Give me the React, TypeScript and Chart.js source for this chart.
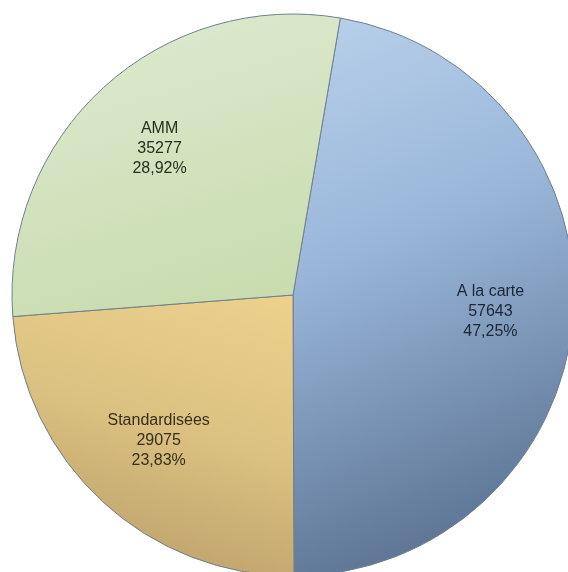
import React, { useEffect, useRef } from "react";
import { Chart, registerables } from "chart.js";

Chart.register(...registerables);

const categories = ["A la carte", "Standardisées", "AMM"];
const values = [57643, 29075, 35277];

const W = 568;
const H = 572;
const RADIUS = 281;
const ROTATION = 9.7;

const labelColors = ["#1c2636", "#36301a", "#25301f"];
const borderColor = "#6f7f8f";

function makeFill(chart: any, index: number) {
  const area = chart.chartArea;
  const c = chart.ctx as CanvasRenderingContext2D;
  if (!area) return ["#9dbadd", "#dcc383", "#d0e2bc"][index];
  const cx = (area.left + area.right) / 2;
  const cy = (area.top + area.bottom) / 2;
  const r = RADIUS;
  if (index === 0) {
    const g = c.createLinearGradient(cx - 0.2 * r, cy - r, cx + 0.6 * r, cy + 0.9 * r);
    g.addColorStop(0, "#bcd3ec");
    g.addColorStop(0.45, "#9ab7da");
    g.addColorStop(1, "#5c7392");
    return g;
  }
  if (index === 1) {
    const g = c.createLinearGradient(cx - 0.1 * r, cy, cx - 0.4 * r, cy + r);
    g.addColorStop(0, "#ecd08c");
    g.addColorStop(0.5, "#dcc282");
    g.addColorStop(1, "#bfa36d");
    return g;
  }
  const g = c.createLinearGradient(cx - 0.3 * r, cy - r, cx, cy);
  g.addColorStop(0, "#dbe8cc");
  g.addColorStop(1, "#c8dcae");
  return g;
}

const sliceLabels = {
  id: "sliceLabels",
  afterDatasetsDraw(chart: any) {
    const ctx = chart.ctx as CanvasRenderingContext2D;
    const meta = chart.getDatasetMeta(0);
    const data = chart.data.datasets[0].data as number[];
    const total = data.reduce((a, b) => a + b, 0);
    ctx.save();
    ctx.font = "16px 'Liberation Sans', Arial, sans-serif";
    ctx.textAlign = "center";
    ctx.textBaseline = "middle";
    meta.data.forEach((arc: any, i: number) => {
      const { x, y, startAngle, endAngle, outerRadius } = arc.getProps(
        ["x", "y", "startAngle", "endAngle", "outerRadius"],
        true
      );
      const mid = (startAngle + endAngle) / 2;
      const rr = outerRadius * 0.705;
      const lx = x + Math.cos(mid) * rr;
      const ly = y + Math.sin(mid) * rr;
      const pct = ((data[i] / total) * 100).toFixed(2).replace(".", ",") + "%";
      const lines = [String(chart.data.labels[i]), String(data[i]), pct];
      ctx.fillStyle = labelColors[i];
      lines.forEach((t, k) => ctx.fillText(t, lx, ly + (k - 1) * 20));
    });
    ctx.restore();
  },
};

export default function App() {
  const ref = useRef<HTMLCanvasElement>(null);
  useEffect(() => {
    const canvas = ref.current;
    if (!canvas) return;
    const chart = new Chart(canvas, {
      type: "pie",
      data: {
        labels: categories,
        datasets: [
          {
            data: values,
            backgroundColor: (ctx: any) => makeFill(ctx.chart, ctx.dataIndex),
            borderColor: borderColor,
            borderWidth: 1,
            clip: false,
          } as any,
        ],
      },
      options: {
        animation: false,
        responsive: false,
        maintainAspectRatio: false,
        devicePixelRatio: 1,
        rotation: ROTATION,
        radius: RADIUS,
        layout: { padding: { left: 18, top: 18, right: 0, bottom: 0 } },
        plugins: {
          legend: { display: false },
          tooltip: { enabled: false },
        },
      } as any,
      plugins: [sliceLabels],
    });
    return () => chart.destroy();
  }, []);
  return (
    <div
      style={{
        position: "fixed",
        left: 0,
        top: 0,
        width: W,
        height: H,
        overflow: "hidden",
        background: "#ffffff",
      }}
    >
      <canvas ref={ref} width={W} height={H} style={{ display: "block", width: W, height: H }} />
    </div>
  );
}
